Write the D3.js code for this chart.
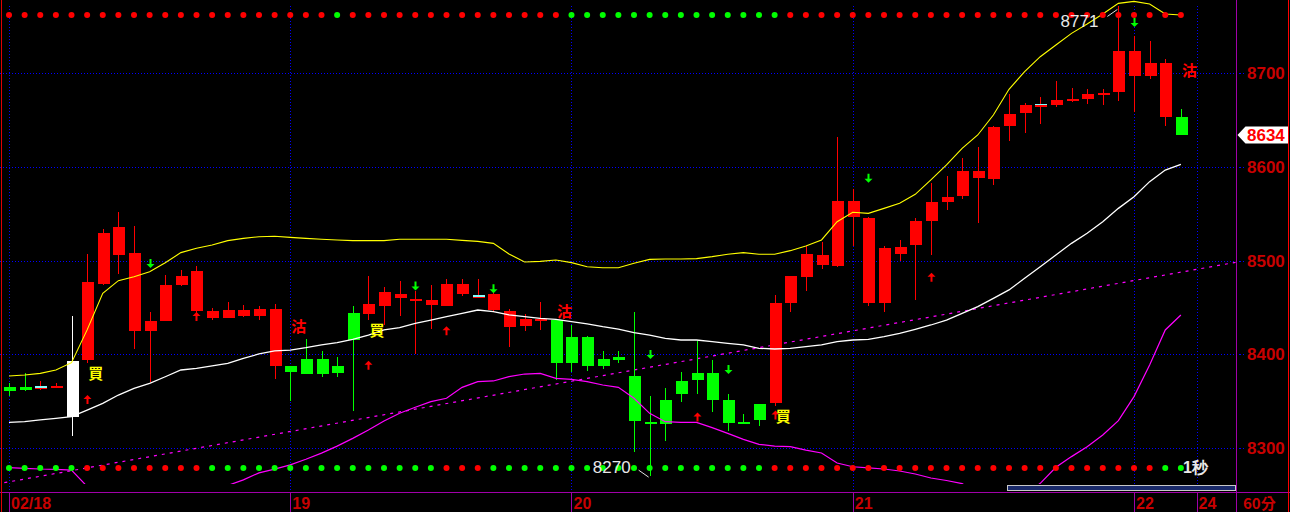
<!DOCTYPE html>
<html><head><meta charset="utf-8">
<script src="https://cdn.jsdelivr.net/npm/d3@7/dist/d3.min.js"></script>
<style>html,body{margin:0;padding:0;background:#000;overflow:hidden}</style>
</head><body><svg id="c" width="1290" height="512"></svg>
<script>
// ---------- data (60-minute bars) ----------
const opens  = [8365,8365,8365,8366,8333,8394,8475,8536,8508,8425,8436,8474,8489,8446,8439,8447,8441,8448,8387,8379,
                8395,8380,8415,8443,8452,8464,8459,8458,8452,8475,8462,8464,8446,8430,8438,8437,8391,8418,8388,8394,
                8377,8328,8326,8358,8373,8380,8351,8328,8330,8348,8455,8482,8495,8494,8563,8545,8455,8507,8517,8542,
                8562,8569,8596,8587,8644,8657,8666,8666,8671,8672,8678,8680,8724,8697,8711,8653];
const highs  = [8369,8380,8371,8369,8441,8507,8534,8552,8537,8445,8485,8490,8494,8449,8456,8453,8452,8454,8388,8416,
                8403,8397,8451,8483,8472,8478,8468,8474,8480,8480,8480,8468,8448,8443,8456,8438,8431,8419,8403,8404,
                8445,8356,8364,8381,8414,8394,8358,8336,8347,8463,8484,8515,8520,8632,8576,8546,8516,8522,8545,8583,
                8590,8609,8621,8644,8678,8668,8674,8692,8684,8683,8683,8771,8740,8734,8715,8662];
const lows   = [8355,8361,8362,8364,8313,8391,8474,8486,8406,8370,8435,8473,8444,8437,8439,8440,8437,8374,8350,8379,
                8376,8376,8339,8437,8431,8441,8400,8427,8451,8462,8461,8446,8408,8425,8426,8373,8381,8382,8384,8391,
                8296,8270,8308,8349,8358,8338,8318,8326,8323,8345,8445,8468,8491,8493,8515,8451,8445,8500,8458,8506,
                8554,8566,8540,8581,8628,8636,8646,8664,8669,8667,8666,8670,8658,8694,8643,8634];
const closes = [8361,8362,8365,8366,8393,8477,8529,8506,8425,8435,8474,8484,8446,8439,8447,8441,8448,8388,8381,8395,
                8379,8388,8444,8454,8466,8460,8459,8453,8475,8464,8462,8447,8429,8438,8438,8391,8418,8388,8395,8397,
                8329,8327,8351,8372,8380,8351,8327,8327,8347,8455,8483,8507,8506,8563,8546,8455,8513,8514,8542,8562,
                8568,8596,8588,8642,8656,8666,8666,8671,8672,8678,8679,8724,8697,8711,8653,8634];
// bar state colour: r = red, g = green, w = white
const barStates = "ggrrwrrrrrrrrrrrrrgggggrrrrrrrrrrrrggggggggggggggrrrrrrrrrrrrrrrrrrrrrrrrrrg".split("");
const dojiBars = [2,30,66];
const upperBand = [8376.8,8377.9,8379.6,8383.2,8391,8426,8465,8478.5,8482.7,8488,8497.7,8508.4,8513,8516.5,8521.2,8523.6,8525.4,8525.8,8524.7,8523.6,
                   8522.6,8521.9,8521.2,8521.2,8521.2,8522.6,8522.6,8522.6,8522.6,8521.5,8520.4,8518.3,8507,8498.4,8499.1,8500.5,8497.7,8493.3,8492.3,8492.3,
                   8497,8501.2,8501.6,8501.6,8502,8504.1,8506.6,8508.4,8506.6,8506.6,8510.5,8515.5,8521.9,8541.4,8551.4,8550.3,8555.6,8561,8570.6,8585.9,
                   8601.9,8619.6,8633.9,8655.2,8682.6,8701.4,8717.4,8729.9,8742.3,8752.3,8762.9,8774.3,8776.4,8773.6,8762.9,8761.9];
const midBand   = [8327.4,8328.1,8329.9,8331.6,8333.4,8340.5,8347.6,8356.5,8363.6,8368.9,8376,8383.2,8385,8387.5,8390.3,8395.6,8400.3,8403.5,8404.5,8407,
                   8409.9,8412.4,8415.9,8420.5,8425.9,8428.4,8433,8436.5,8440.1,8443.6,8447.2,8445.4,8441.9,8440.1,8438.3,8437.2,8434.7,8432.3,8429.4,8426.9,
                   8423,8420.5,8417,8415.2,8415.2,8413.4,8411.6,8409.9,8406.3,8405.6,8406.3,8408.1,8409.9,8413.4,8415.2,8415.9,8418.8,8422.3,8426.6,8431.2,
                   8436.5,8443.6,8450.8,8459.6,8468.6,8481,8493.4,8505.9,8518.3,8529,8541.4,8555.6,8568.1,8584.1,8596.5,8602.6];
const lowerBand = [8279,8278.3,8277.6,8277.3,8276.5,8259,8248,8235,8244.5,8249.8,8254.3,8258,8257,8258.5,8260,8266,8273.5,8277.5,8282,8288,
                   8294.5,8302,8310.3,8319.2,8328.8,8337,8343.4,8349.4,8353,8364.7,8370.8,8371.5,8376.1,8378.9,8379.6,8374.3,8373.2,8370.8,8367.2,8364.7,
                   8353,8337,8328.1,8327.4,8327.4,8321.7,8315.6,8309.2,8303.9,8302.1,8301.4,8297.8,8294.7,8284,8280,8278.7,8277.6,8275.5,8272.3,8268,
                   8265.3,8262,8252,8250,8252,8250,8262.3,8279.4,8290.8,8301.4,8313.8,8329.2,8354.8,8388.5,8425.9,8441.9];
const topSignal    = "rrrrrrrrrrrrrrrrrrrrrgrrrrrrrrrrrrrrggggggggggggggrrrrrrrrrrrrrrrrrrrrrrrrrr".split("");
const bottomSignal = "gggggrrrrrrrrgggggggggggggggrrrggggggggggggggggggrrrrrrrrrrrrrrrrrrrrrrrrrgg".split("");
const trendLine = [{i:-0.3, p:8263}, {i:78.5, p:8498}];
const upArrows   = [{i:5,p:8356.5},{i:12,p:8445},{i:23,p:8393},{i:28,p:8430},{i:44,p:8338},{i:49,p:8340},{i:59,p:8487}];
const downArrows = [{i:9,p:8492},{i:26,p:8468},{i:31,p:8465},{i:41,p:8395},{i:46,p:8379},{i:55,p:8583},{i:72,p:8749}];
const buyLabels  = [{i:5,p:8379},{i:23,p:8425},{i:49,p:8333}];
const sellLabels = [{i:18,p:8429},{i:35,p:8446},{i:75,p:8703}];
const highMark = {i:71, p:8771};
const lowMark  = {i:41, p:8270};
const priceTicks = [8300,8400,8500,8600,8700];
const dayIdx    = [0,18,36,54,72,76];
const dayLabels = ["02/18","19","20","21","22","24"];
const periodLabel = "60分";
const intervalLabel = "1秒";
const buyText = "買", sellText = "沽";

// ---------- layout ----------
const W = 1290, H = 512, axisX = 1236.5, axisY = 492.5;
const x = d3.scaleLinear().domain([0,76]).range([9,1196.5]);
const y = d3.scaleLinear().domain([8300,8700]).range([448,73]);
const svg = d3.select('#c');
const RED = '#ff0000', GREEN = '#00ff00', LBL = '#c80000', BLUE = '#0000ff', PURPLE = '#a000a8';
const fillOf = {r:RED, g:GREEN, w:'#ffffff'};

svg.append('rect').attr('width',W).attr('height',H).attr('fill','#000');
const defs = svg.append('defs');
defs.append('clipPath').attr('id','plot').append('rect').attr('x',0).attr('y',0).attr('width',axisX).attr('height',484);

// grid
const grid = svg.append('g').attr('shape-rendering','crispEdges');
grid.selectAll('line.h').data(priceTicks).join('line')
  .attr('x1',0).attr('x2',axisX).attr('y1',d=>Math.round(y(d))+0.5).attr('y2',d=>Math.round(y(d))+0.5)
  .attr('stroke',BLUE).attr('stroke-dasharray','1,2');
grid.selectAll('line.v').data(dayIdx).join('line')
  .attr('x1',d=>Math.round(x(d))+0.5).attr('x2',d=>Math.round(x(d))+0.5).attr('y1',6).attr('y2',axisY)
  .attr('stroke',BLUE).attr('stroke-dasharray','1,2');

// trend line
const plot = svg.append('g').attr('clip-path','url(#plot)');
plot.append('line')
  .attr('x1',x(trendLine[0].i)).attr('y1',y(trendLine[0].p))
  .attr('x2',x(trendLine[1].i)).attr('y2',y(trendLine[1].p))
  .attr('stroke','#ff00ff').attr('stroke-width',1.2).attr('stroke-dasharray','3,5');

// signal dot rows
const dots = svg.append('g');
dots.selectAll('circle.t').data(topSignal).join('circle')
  .attr('cx',(d,i)=>x(i)).attr('cy',15).attr('r',3).attr('fill',d=>d==='r'?RED:GREEN);
dots.selectAll('circle.b').data(bottomSignal).join('circle')
  .attr('cx',(d,i)=>x(i)).attr('cy',468).attr('r',3).attr('fill',d=>d==='r'?RED:GREEN);

// candles
const bars = d3.range(opens.length).map(i=>({i,o:opens[i],h:highs[i],l:lows[i],c:closes[i],s:barStates[i]}));
const cg = plot.append('g').attr('shape-rendering','crispEdges');
cg.selectAll('line.w').data(bars).join('line')
  .attr('x1',d=>Math.round(x(d.i))+0.5).attr('x2',d=>Math.round(x(d.i))+0.5)
  .attr('y1',d=>y(d.h)).attr('y2',d=>y(d.l))
  .attr('stroke',d=>fillOf[d.s]).attr('stroke-width',1.2);
cg.selectAll('rect.b').data(bars).join('rect')
  .attr('x',d=>Math.round(x(d.i))-5.5).attr('width',12)
  .attr('y',d=>Math.min(y(d.o),y(d.c)))
  .attr('height',d=>Math.max(2,Math.abs(y(d.o)-y(d.c))))
  .attr('fill',d=>fillOf[d.s]);
cg.selectAll('rect.d').data(dojiBars).join('rect')
  .attr('x',d=>Math.round(x(d))-5.5).attr('width',12)
  .attr('y',d=>y(closes[d])-1).attr('height',1.5).attr('fill','#80ffff');

// bands
const line = d3.line().x((d,i)=>x(i)).y(d=>y(d));
plot.append('path').attr('d',line(upperBand)).attr('fill','none').attr('stroke','#ffff00').attr('stroke-width',1.1);
plot.append('path').attr('d',line(midBand)).attr('fill','none').attr('stroke','#ffffff').attr('stroke-width',1.3);
plot.append('path').attr('d',line(lowerBand)).attr('fill','none').attr('stroke','#ff00ff').attr('stroke-width',1.2);

// arrows
const ag = svg.append('g');
ag.selectAll('path.u').data(upArrows).join('path')
  .attr('transform',d=>`translate(${Math.round(x(d.i))+0.5},${y(d.p)})`)
  .attr('d','M0,0 L4,4 L1,4 L1,9 L-1,9 L-1,4 L-4,4 Z').attr('fill',RED);
ag.selectAll('path.d').data(downArrows).join('path')
  .attr('transform',d=>`translate(${Math.round(x(d.i))+0.5},${y(d.p)})`)
  .attr('d','M0,0 L4,-4 L1,-4 L1,-9 L-1,-9 L-1,-4 L-4,-4 Z').attr('fill',GREEN);

// buy / sell text
const cjk = '"Noto Sans CJK TC","Noto Sans CJK SC",sans-serif';
svg.selectAll('text.buy').data(buyLabels).join('text')
  .attr('x',d=>x(d.i)+1).attr('y',d=>y(d.p)).attr('dy','0.36em')
  .attr('font-family',cjk).attr('font-weight','bold').attr('font-size',15).attr('fill','#ffff00').text(buyText);
svg.selectAll('text.sell').data(sellLabels).join('text')
  .attr('x',d=>x(d.i)+1).attr('y',d=>y(d.p)).attr('dy','0.36em')
  .attr('font-family',cjk).attr('font-weight','bold').attr('font-size',15).attr('fill',RED).text(sellText);

// high / low marks
const num = '"Liberation Sans",Arial,sans-serif';
const hx = x(highMark.i), hy = y(highMark.p);
svg.append('line').attr('x1',hx-11).attr('y1',hy+10).attr('x2',hx-1).attr('y2',hy+3).attr('stroke','#e0e0e0');
svg.append('text').attr('x',hx-20).attr('y',hy+14).attr('dy','0.36em').attr('text-anchor','end')
  .attr('font-family',num).attr('font-size',17).attr('fill','#e8e8e8').text(highMark.p);
const lx = x(lowMark.i), ly = y(lowMark.p);
svg.append('line').attr('x1',lx-11).attr('y1',ly-6).attr('x2',lx-1).attr('y2',ly+1).attr('stroke','#e0e0e0');
svg.append('text').attr('x',lx-19).attr('y',ly-9).attr('dy','0.36em').attr('text-anchor','end')
  .attr('font-family',num).attr('font-size',17).attr('fill','#e8e8e8').text(lowMark.p);
svg.append('text').attr('x',x(75)+2).attr('y',467).attr('dy','0.36em')
  .attr('font-family',num).attr('font-weight','bold').attr('font-size',16).attr('fill','#e8e8e8').text(intervalLabel);

// scrollbar
svg.append('rect').attr('x',1007.5).attr('y',485.5).attr('width',228).attr('height',5)
  .attr('fill','#1a2a6a').attr('stroke','#c8c8c8').attr('stroke-width',1);

// axes frame
const fr = svg.append('g').attr('shape-rendering','crispEdges');
fr.append('line').attr('x1',axisX).attr('x2',axisX).attr('y1',0).attr('y2',H).attr('stroke',PURPLE).attr('stroke-width',1.5);
fr.append('line').attr('x1',0).attr('x2',W).attr('y1',axisY).attr('y2',axisY).attr('stroke',PURPLE).attr('stroke-width',1.5);
fr.selectAll('line.dl').data(dayIdx).join('line')
  .attr('x1',d=>Math.round(x(d))+0.5).attr('x2',d=>Math.round(x(d))+0.5).attr('y1',axisY).attr('y2',H)
  .attr('stroke',PURPLE).attr('stroke-width',1.5);
fr.append('line').attr('x1',1.5).attr('x2',1.5).attr('y1',0).attr('y2',H).attr('stroke','#e00000').attr('stroke-width',1.5);
fr.append('line').attr('x1',1288.5).attr('x2',1288.5).attr('y1',0).attr('y2',H).attr('stroke',RED).attr('stroke-width',1.5);
fr.selectAll('line.tk').data(priceTicks).join('line')
  .attr('x1',axisX+2).attr('x2',axisX+7).attr('y1',d=>Math.round(y(d))+0.5).attr('y2',d=>Math.round(y(d))+0.5)
  .attr('stroke',BLUE).attr('stroke-dasharray','2,2');

// price labels
svg.selectAll('text.pl').data(priceTicks).join('text')
  .attr('x',1247).attr('y',d=>y(d)).attr('dy','0.36em')
  .attr('font-family',num).attr('font-weight','bold').attr('font-size',17).attr('fill',LBL).text(d=>d);

// last price tag
const last = closes[closes.length-1], ty = y(last);
svg.append('path').attr('d',`M${axisX+1},${ty} L${axisX+9},${ty-8.5} L1288,${ty-8.5} L1288,${ty+8.5} L${axisX+9},${ty+8.5} Z`)
  .attr('fill','#ffffff');
svg.append('text').attr('x',1247).attr('y',ty).attr('dy','0.36em')
  .attr('font-family',num).attr('font-weight','bold').attr('font-size',17).attr('fill',RED).text(last);

// day labels
svg.selectAll('text.dl').data(dayIdx).join('text')
  .attr('x',d=>x(d)+2).attr('y',509)
  .attr('font-family',num).attr('font-weight','bold').attr('font-size',16).attr('fill',LBL).text((d,i)=>dayLabels[i]);
svg.append('text').attr('x',1243).attr('y',509)
  .attr('font-family',cjk).attr('font-weight','bold').attr('font-size',15).attr('fill',LBL).text(periodLabel);
</script></body></html>
